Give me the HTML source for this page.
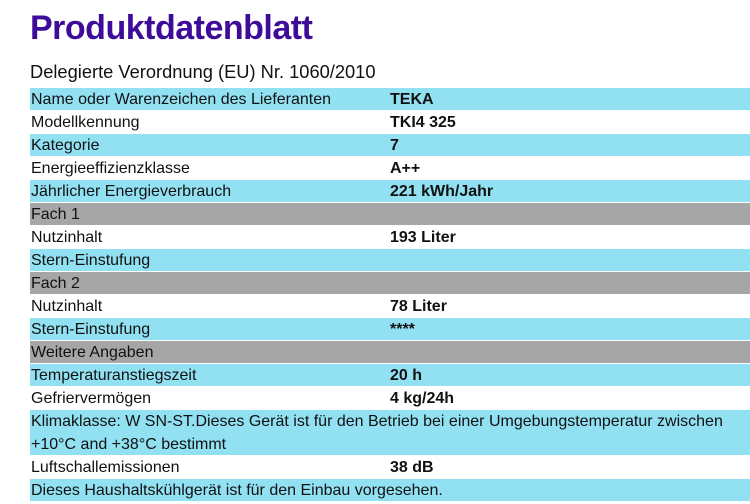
<!DOCTYPE html>
<html><head><meta charset="utf-8"><style>
body{margin:0;width:750px;height:504px;background:#fff;font-family:"Liberation Sans",sans-serif;position:relative;overflow:hidden}
h1{position:absolute;left:30px;top:9px;margin:0;font-size:34px;font-weight:bold;color:#3d0c99;letter-spacing:-0.5px}
.sub{position:absolute;left:30px;top:61px;font-size:18.3px;color:#111}
.r{position:absolute;left:30px;width:720px;height:22px;font-size:16px;line-height:23px;color:#111;white-space:nowrap}
.c{background:#92e1f3}.g{background:#a6a6a6}
.r span{position:absolute;left:1px}
.r b{position:absolute;left:360px}
</style></head><body>
<h1>Produktdatenblatt</h1>
<div class="sub">Delegierte Verordnung (EU) Nr. 1060/2010</div>
<div class="r c" style="top:88px"><span>Name oder Warenzeichen des Lieferanten</span><b>TEKA</b></div>
<div class="r" style="top:111px"><span>Modellkennung</span><b>TKI4 325</b></div>
<div class="r c" style="top:134px"><span>Kategorie</span><b>7</b></div>
<div class="r" style="top:157px"><span>Energieeffizienzklasse</span><b>A++</b></div>
<div class="r c" style="top:180px"><span>Jährlicher Energieverbrauch</span><b>221 kWh/Jahr</b></div>
<div class="r g" style="top:203px"><span>Fach 1</span></div>
<div class="r" style="top:226px"><span>Nutzinhalt</span><b>193 Liter</b></div>
<div class="r c" style="top:249px"><span>Stern-Einstufung</span></div>
<div class="r g" style="top:272px"><span>Fach 2</span></div>
<div class="r" style="top:295px"><span>Nutzinhalt</span><b>78 Liter</b></div>
<div class="r c" style="top:318px"><span>Stern-Einstufung</span><b>****</b></div>
<div class="r g" style="top:341px"><span>Weitere Angaben</span></div>
<div class="r c" style="top:364px"><span>Temperaturanstiegszeit</span><b>20 h</b></div>
<div class="r" style="top:387px"><span>Gefriervermögen</span><b>4 kg/24h</b></div>
<div class="r c" style="top:410px;height:45px;line-height:23px"><span>Klimaklasse: W SN-ST.Dieses Gerät ist für den Betrieb bei einer Umgebungstemperatur zwischen<br>+10°C and +38°C bestimmt</span></div>
<div class="r" style="top:456px"><span>Luftschallemissionen</span><b>38 dB</b></div>
<div class="r c" style="top:479px"><span>Dieses Haushaltskühlgerät ist für den Einbau vorgesehen.</span></div>
</body></html>
